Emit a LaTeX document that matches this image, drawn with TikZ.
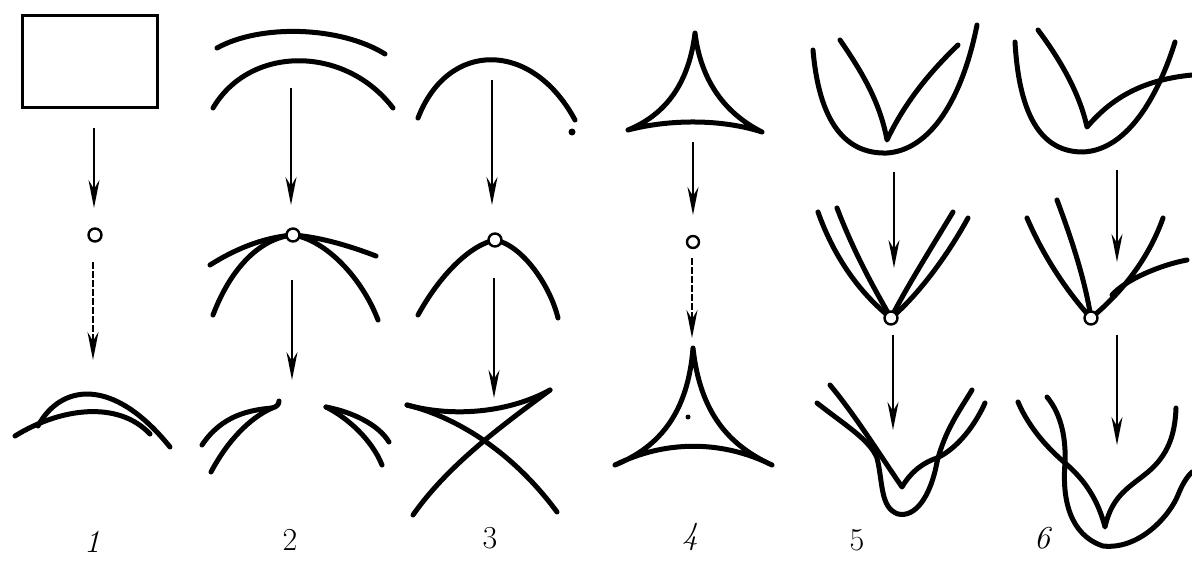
\documentclass[tikz,border=0pt]{standalone}
\usetikzlibrary{arrows.meta}
\begin{document}
\begin{tikzpicture}[x=1pt,y=-1pt,
  crv/.style={line width=5pt,line cap=round,line join=round},
  arr/.style={line width=2pt,-{Stealth[length=28pt,width=11pt,inset=9pt]}},
  darr/.style={arr,dash pattern=on 7pt off 2pt},
  circ/.style={circle,draw,line width=2.4pt,fill=white,minimum size=13pt,inner sep=0pt},
  lab/.style={font=\fontsize{32}{36}\selectfont},
  itlab/.style={font=\fontsize{32}{36}\selectfont\itshape},
  dotn/.style={circle,fill,inner sep=0pt,minimum size=5pt}]
\useasboundingbox (0,0) rectangle (1192,565);

% ---------- column 1 ----------
\node[draw,line width=3pt,minimum width=135pt,minimum height=92pt,inner sep=0pt] (r1) at (90,61) {};
\node[circ] (c1) at (95,235) {};
\coordinate (a1s) at (94,128); \coordinate (a1e) at (94,208);
\coordinate (b1s) at (93,262); \coordinate (b1e) at (93,360);
\draw[arr] (a1s) -- (a1e);
\draw[darr] (b1s) -- (b1e);
\draw[crv] (38,426) .. controls (60,385) and (112,375) .. (170,447);
\draw[crv] (15,436) .. controls (60,408) and (118,400) .. (150,434);
\node[itlab] (l1) at (92,542) {1};

% ---------- column 2 ----------
\draw[crv] (217,48) .. controls (260,24) and (340,26) .. (385,54);
\draw[crv] (213,108) .. controls (250,45) and (345,45) .. (393,108);
\coordinate (a2s) at (291,88); \coordinate (a2e) at (291,205);
\draw[arr] (a2s) -- (a2e);
\coordinate (c2p) at (293,235);
\draw[crv] (210,265) .. controls (240,246) and (268,237) .. (c2p) .. controls (320,237) and (350,246) .. (376,256);
\draw[crv] (213,315) .. controls (232,265) and (262,238) .. (c2p) .. controls (326,240) and (362,278) .. (378,320);
\node[circ] (c2) at (c2p) {};
\coordinate (b2s) at (292,280); \coordinate (b2e) at (292,380);
\draw[arr] (b2s) -- (b2e);
\draw[crv] (202,445) .. controls (222,415) and (250,410) .. (272,408) .. controls (277,407) and (279,404) .. (279,401);
\draw[crv] (211,472) .. controls (228,440) and (250,418) .. (272,408);
\draw[crv] (326,407) .. controls (352,412) and (378,424) .. (389,442);
\draw[crv] (326,407) .. controls (348,418) and (372,440) .. (382,465);
\node[lab] (l2) at (290,540) {2};

% ---------- column 3 ----------
\draw[crv] (418,118) .. controls (448,40) and (532,40) .. (575,120);
\node[dotn,minimum size=7pt] (d3) at (572,132) {};
\coordinate (a3s) at (492,80); \coordinate (a3e) at (492,205);
\draw[arr] (a3s) -- (a3e);
\coordinate (c3p) at (495,240);
\draw[crv] (418,315) .. controls (440,275) and (470,245) .. (c3p) .. controls (522,245) and (550,285) .. (558,318);
\node[circ] (c3) at (c3p) {};
\coordinate (b3s) at (494,278); \coordinate (b3e) at (494,398);
\draw[arr] (b3s) -- (b3e);
\coordinate (x3l) at (407,405); \coordinate (x3r) at (550,390);
\draw[crv] (x3l) .. controls (455,418) and (510,412) .. (x3r);
\draw[crv] (x3l) .. controls (460,418) and (515,455) .. (557,512);
\draw[crv] (x3r) .. controls (510,420) and (450,462) .. (413,515);
\node[lab] (l3) at (490,538) {3};

% ---------- column 4 ----------
\draw[crv] (695,33) .. controls (689,82) and (667,114) .. (628,130)
  .. controls (670,119) and (722,119) .. (762,132)
  .. controls (726,114) and (701,82) .. cycle;
\node[circ,minimum size=12pt] (c4) at (693,242) {};
\coordinate (a4s) at (693,142); \coordinate (a4e) at (693,215);
\coordinate (b4s) at (692,258); \coordinate (b4e) at (692,338);
\draw[arr] (a4s) -- (a4e);
\draw[darr] (b4s) -- (b4e);
\draw[crv] (693,348) .. controls (688,412) and (660,447) .. (615,465)
  .. controls (665,440) and (722,440) .. (772,465)
  .. controls (728,445) and (700,412) .. cycle;
\node[dotn] (d4) at (688,417) {};
\node[itlab] (l4) at (690,537) {4};

% ---------- column 5 ----------
\draw[crv] (813,50) .. controls (820,132) and (852,154) .. (887,153) .. controls (930,150) and (962,100) .. (977,25);
\draw[crv] (840,40) .. controls (862,72) and (880,102) .. (887,140) .. controls (905,102) and (930,72) .. (958,45);
\coordinate (a5s) at (894,172); \coordinate (a5e) at (894,268);
\draw[arr] (a5s) -- (a5e);
\coordinate (c5p) at (891,318);
\draw[crv] (818,212) .. controls (835,260) and (862,295) .. (c5p);
\draw[crv] (837,208) .. controls (855,255) and (875,290) .. (c5p);
\draw[crv] (953,212) .. controls (930,250) and (905,290) .. (c5p);
\draw[crv] (968,218) .. controls (945,260) and (915,298) .. (c5p);
\node[circ] (c5) at (c5p) {};
\coordinate (b5s) at (893,335); \coordinate (b5e) at (893,430);
\draw[arr] (b5s) -- (b5e);
\draw[crv] (817,403) .. controls (845,425) and (870,440) .. (877,458) .. controls (883,482) and (880,508) .. (898,514)
  .. controls (916,518) and (931,495) .. (937,462) .. controls (945,430) and (960,410) .. (972,390);
\draw[crv] (830,385) .. controls (855,415) and (880,455) .. (902,487) .. controls (912,470) and (925,462) .. (937,458)
  .. controls (958,448) and (975,425) .. (985,403);
\node[lab] (l5) at (857,540) {5};

% ---------- column 6 ----------
\draw[crv] (1015,42) .. controls (1020,130) and (1050,152) .. (1083,152) .. controls (1130,150) and (1160,90) .. (1175,42);
\draw[crv] (1038,30) .. controls (1062,62) and (1080,95) .. (1087,127) .. controls (1110,100) and (1140,80) .. (1192,75);
\coordinate (a6s) at (1117,170); \coordinate (a6e) at (1117,262);
\draw[arr] (a6s) -- (a6e);
\coordinate (c6p) at (1091,318);
\draw[crv] (1027,218) .. controls (1045,260) and (1070,295) .. (c6p);
\draw[crv] (1057,200) .. controls (1072,240) and (1085,280) .. (c6p);
\draw[crv] (1163,218) .. controls (1150,255) and (1125,290) .. (c6p);
\draw[crv] (1187,260) .. controls (1160,265) and (1125,280) .. (1112,295);
\node[circ] (c6) at (c6p) {};
\coordinate (b6s) at (1117,335); \coordinate (b6e) at (1117,445);
\draw[arr] (b6s) -- (b6e);
\draw[crv] (1018,402) .. controls (1030,430) and (1050,450) .. (1065,463) .. controls (1085,480) and (1098,500) .. (1105,527)
  .. controls (1112,495) and (1130,487) .. (1148,472) .. controls (1168,455) and (1175,435) .. (1176,408);
\draw[crv] (1047,397) .. controls (1062,415) and (1066,440) .. (1065,463) .. controls (1062,500) and (1070,535) .. (1103,546)
  .. controls (1140,550) and (1170,515) .. (1178,495) .. controls (1182,485) and (1186,478) .. (1192,472);
\node[itlab] (l6) at (1042,538) {6};
\end{tikzpicture}
\end{document}
